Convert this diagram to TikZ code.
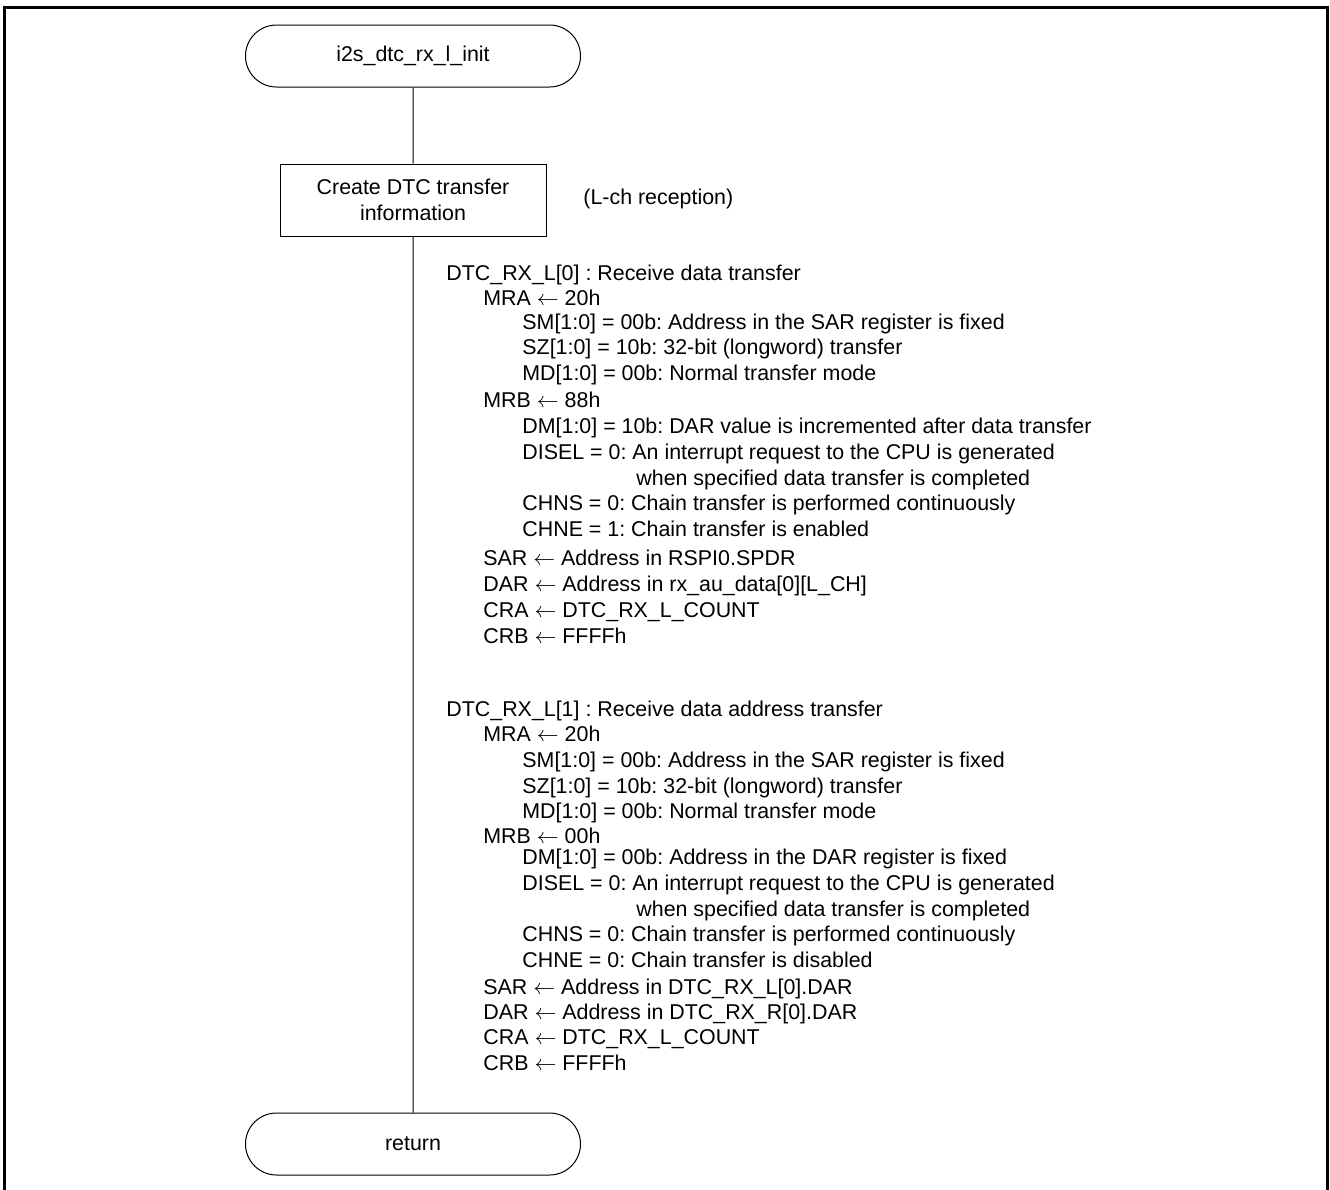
\documentclass[tikz,border=0pt]{standalone}
\usepackage{fontspec}
\setmainfont{Liberation Sans}
\usetikzlibrary{shapes.misc,positioning}
\frenchspacing

\begin{document}
\begin{tikzpicture}[
    x=0.5pt,y=-0.5pt,
    every node/.style={font=\fontsize{10.7}{12.7}\selectfont},
    term/.style={draw,rounded rectangle,minimum width=167.5pt,minimum height=31pt,inner sep=0pt,line width=0.5pt},
    proc/.style={draw,rectangle,minimum width=133pt,minimum height=36pt,align=center,inner sep=0pt,line width=0.5pt},
    txt/.style={anchor=base west,inner sep=0pt,text height=0.72em,text depth=0.14em},
    flow/.style={line width=0.5pt},
    frame/.style={line width=1.5pt}
  ]
    \useasboundingbox (0,0) rectangle (1330,1190);
    % outer frame (open at the bottom)
    \draw[frame] (4,1190) -- (4,7) -- (1327,7) -- (1327,1190);

    \node[term] (start) at (413,56) {i2s\_dtc\_rx\_l\_init};
    \node[proc] (info) at (413,200) {Create DTC transfer\\information};
    \node[txt,anchor=west] (lch) at (583,199) {(L-ch reception)};
    \node[term] (ret) at (413,1144) {return};

    % DTC_RX_L[0]
    \node[txt] (a0) at (446,280) {DTC\_RX\_L[0] : Receive data transfer};
    \node[txt] (a1) at (483,305) {MRA $\leftarrow$ 20h};
    \node[txt] (a2) at (522,329) {SM[1:0] = 00b: Address in the SAR register is fixed};
    \node[txt] (a3) at (522,354) {SZ[1:0] = 10b: 32-bit (longword) transfer};
    \node[txt] (a4) at (522,380) {MD[1:0] = 00b: Normal transfer mode};
    \node[txt] (a5) at (483,407) {MRB $\leftarrow$ 88h};
    \node[txt] (a6) at (522,433) {DM[1:0] = 10b: DAR value is incremented after data transfer};
    \node[txt] (a7) at (522,459) {DISEL = 0: An interrupt request to the CPU is generated};
    \node[txt] (a8) at (636,485) {when specified data transfer is completed};
    \node[txt] (a9) at (522,510) {CHNS = 0: Chain transfer is performed continuously};
    \node[txt] (a10) at (522,536) {CHNE = 1: Chain transfer is enabled};
    \node[txt] (a11) at (483,565) {SAR $\leftarrow$ Address in RSPI0.SPDR};
    \node[txt] (a12) at (483,591) {DAR $\leftarrow$ Address in rx\_au\_data[0][L\_CH]};
    \node[txt] (a13) at (483,617) {CRA $\leftarrow$ DTC\_RX\_L\_COUNT};
    \node[txt] (a14) at (483,643) {CRB $\leftarrow$ FFFFh};

    % DTC_RX_L[1]
    \node[txt] (b0) at (446,716) {DTC\_RX\_L[1] : Receive data address transfer};
    \node[txt] (b1) at (483,741) {MRA $\leftarrow$ 20h};
    \node[txt] (b2) at (522,767) {SM[1:0] = 00b: Address in the SAR register is fixed};
    \node[txt] (b3) at (522,793) {SZ[1:0] = 10b: 32-bit (longword) transfer};
    \node[txt] (b4) at (522,818) {MD[1:0] = 00b: Normal transfer mode};
    \node[txt] (b5) at (483,843) {MRB $\leftarrow$ 00h};
    \node[txt] (b6) at (522,864) {DM[1:0] = 00b: Address in the DAR register is fixed};
    \node[txt] (b7) at (522,890) {DISEL = 0: An interrupt request to the CPU is generated};
    \node[txt] (b8) at (636,916) {when specified data transfer is completed};
    \node[txt] (b9) at (522,941) {CHNS = 0: Chain transfer is performed continuously};
    \node[txt] (b10) at (522,967) {CHNE = 0: Chain transfer is disabled};
    \node[txt] (b11) at (483,994) {SAR $\leftarrow$ Address in DTC\_RX\_L[0].DAR};
    \node[txt] (b12) at (483,1019) {DAR $\leftarrow$ Address in DTC\_RX\_R[0].DAR};
    \node[txt] (b13) at (483,1044) {CRA $\leftarrow$ DTC\_RX\_L\_COUNT};
    \node[txt] (b14) at (483,1070) {CRB $\leftarrow$ FFFFh};

    % flow line
    \draw[flow] (start) -- (info);
    \draw[flow] (info) -- (ret);
\end{tikzpicture}
\end{document}
